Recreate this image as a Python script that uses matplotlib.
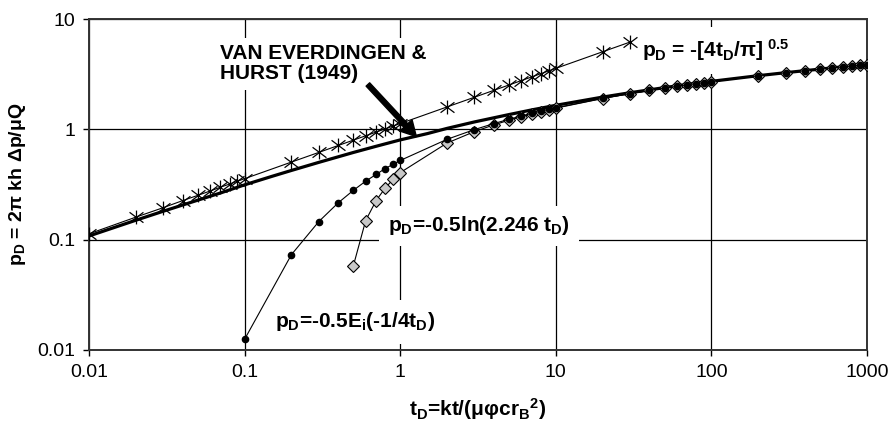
import matplotlib
matplotlib.use("Agg")
import matplotlib.pyplot as plt
from matplotlib.path import Path

plt.rcParams['font.family'] = ['Liberation Sans', 'DejaVu Sans']
plt.rcParams['mathtext.default'] = 'regular'

# Van Everdingen & Hurst (1949), infinite reservoir, constant rate
veh_td = [0.01, 0.02, 0.03, 0.05, 0.07, 0.1, 0.15, 0.2, 0.3, 0.5, 0.7, 1, 1.5, 2, 3,
          5, 7, 10, 20, 30, 50, 70, 100, 200, 300, 500, 700, 1000]
veh_pd = [0.108, 0.150, 0.181, 0.228, 0.265, 0.314, 0.375, 0.424, 0.502, 0.617, 0.702,
          0.802, 0.916, 1.020, 1.167, 1.361, 1.500, 1.651, 1.960, 2.147, 2.389, 2.553,
          2.723, 3.064, 3.263, 3.516, 3.684, 3.859]

# early-time (linear flow) approximation
sqrt_td = [0.01, 0.02, 0.03, 0.04, 0.05, 0.06, 0.07, 0.08, 0.09, 0.1,
           0.2, 0.3, 0.4, 0.5, 0.6, 0.7, 0.8, 0.9, 1,
           2, 3, 4, 5, 6, 7, 8, 9, 10, 20, 30]
sqrt_pd = [0.113, 0.160, 0.195, 0.226, 0.252, 0.276, 0.299, 0.319, 0.339, 0.357,
           0.505, 0.618, 0.714, 0.798, 0.874, 0.944, 1.009, 1.071, 1.128,
           1.596, 1.954, 2.257, 2.523, 2.764, 2.985, 3.192, 3.385, 3.568, 5.046, 6.180]

# line-source (exponential integral) solution
ei_td = [0.1, 0.2, 0.3, 0.4, 0.5, 0.6, 0.7, 0.8, 0.9, 1,
         2, 3, 4, 5, 6, 7, 8, 9, 10,
         20, 30, 40, 50, 60, 70, 80, 90, 100,
         200, 300, 400, 500, 600, 700, 800, 900, 1000]
ei_pd = [0.0125, 0.0732, 0.146, 0.216, 0.280, 0.339, 0.390, 0.441, 0.482, 0.522,
         0.812, 0.995, 1.128, 1.234, 1.321, 1.395, 1.460, 1.517, 1.568,
         1.909, 2.109, 2.252, 2.363, 2.454, 2.531, 2.597, 2.656, 2.708,
         3.054, 3.257, 3.401, 3.512, 3.603, 3.680, 3.747, 3.806, 3.859]

# semilog (late-time) approximation
ln_td = [0.5, 0.6, 0.7, 0.8, 0.9, 1,
         2, 3, 4, 5, 6, 7, 8, 9, 10,
         20, 30, 40, 50, 60, 70, 80, 90, 100,
         200, 300, 400, 500, 600, 700, 800, 900, 1000]
ln_pd = [0.058, 0.149, 0.226, 0.293, 0.352, 0.405,
         0.751, 0.954, 1.098, 1.209, 1.301, 1.378, 1.444, 1.503, 1.556,
         1.902, 2.105, 2.249, 2.361, 2.452, 2.529, 2.596, 2.655, 2.707,
         3.054, 3.256, 3.400, 3.512, 3.603, 3.680, 3.747, 3.806, 3.859]

x_ticks = [0.01, 0.1, 1, 10, 100, 1000]
x_tick_labels = ['0.01', '0.1', '1', '10', '100', '1000']
y_ticks = [0.01, 0.1, 1, 10]
y_tick_labels = ['0.01', '0.1', '1', '10']

# asterisk marker: vertical bar crossed by two diagonals
asterisk = Path([(0, -1), (0, 1), (-1, -0.75), (1, 0.75), (-1, 0.75), (1, -0.75)],
                [Path.MOVETO, Path.LINETO] * 3)

fig = plt.figure(figsize=(8.93, 4.21), dpi=100)
ax = fig.add_axes([89 / 893, 1 - 350 / 421, 778 / 893, 331 / 421])
ax.set_xscale('log')
ax.set_yscale('log')

ax.plot(veh_td, veh_pd, color='black', lw=2.3, zorder=3)
ax.plot(sqrt_td, sqrt_pd, color='black', lw=0.8, marker=asterisk, markersize=10,
        markeredgewidth=0.9, markerfacecolor='none', markeredgecolor='black', zorder=4)
ax.plot(ln_td, ln_pd, color='black', lw=0.8, marker='D', markersize=6.5,
        markerfacecolor='#c8c8c8', markeredgecolor='black', markeredgewidth=0.8, zorder=4)
ax.plot(ei_td, ei_pd, color='black', lw=0.8, marker='o', markersize=4.5,
        markerfacecolor='black', markeredgecolor='black', zorder=5)

ax.set_xlim(0.01, 1000)
ax.set_ylim(0.01, 10)
ax.set_xticks(x_ticks)
ax.set_xticklabels(x_tick_labels)
ax.set_yticks(y_ticks)
ax.set_yticklabels(y_tick_labels)
ax.minorticks_off()
ax.tick_params(direction='out', length=4, width=1, labelsize=14, pad=6)
ax.grid(True, which='major', color='black', lw=0.9)
ax.set_axisbelow(True)
for sp in ax.spines.values():
    sp.set_color('#333333')
    sp.set_linewidth(1.4)

fig.text(18 / 893, 1 - 184.5 / 421, r'$p_D$ = 2π kh Δp/μQ', rotation=90,
         ha='center', va='center', fontsize=14, fontweight='bold')
fig.text(478 / 893, 1 - 409 / 421, r'$t_D$=kt/(μφc$r_B$$^2$)',
         ha='center', va='center', fontsize=15, fontweight='bold')

box = dict(boxstyle='square,pad=0.3', facecolor='white', edgecolor='none')
ax.text(0.168, 0.925, 'VAN EVERDINGEN &\nHURST (1949)', transform=ax.transAxes,
        ha='left', va='top', fontsize=15, fontweight='bold', linespacing=1.1,
        bbox=box, zorder=2.5)
ax.text(0.711, 0.905, r'$p_D$ = -[4$t_D$/π]$^{\ 0.5}$', transform=ax.transAxes,
        ha='left', va='center', fontsize=15, fontweight='bold',
        bbox=dict(boxstyle='square,pad=0.5', facecolor='white', edgecolor='none'),
        zorder=2.5)
ax.text(0.384, 0.375, r'$p_D$=-0.5ln(2.246 $t_D$) ', transform=ax.transAxes,
        ha='left', va='center', fontsize=15, fontweight='bold',
        bbox=dict(boxstyle='square,pad=0.4', facecolor='white', edgecolor='none'),
        zorder=2.5)
ax.text(0.239, 0.085, r'$p_D$=-0.5E$_i$(-1/4$t_D$)', transform=ax.transAxes,
        ha='left', va='center', fontsize=15, fontweight='bold',
        bbox=dict(boxstyle='square,pad=0.5', facecolor='white', edgecolor='none'),
        zorder=2.5)

ax.annotate('', xy=(1.27, 0.86), xytext=(0.62, 2.55),
            arrowprops=dict(facecolor='black', edgecolor='black', width=3.5,
                            headwidth=12, headlength=11, shrink=0), zorder=6)

fig.savefig('out.png', dpi=100)
